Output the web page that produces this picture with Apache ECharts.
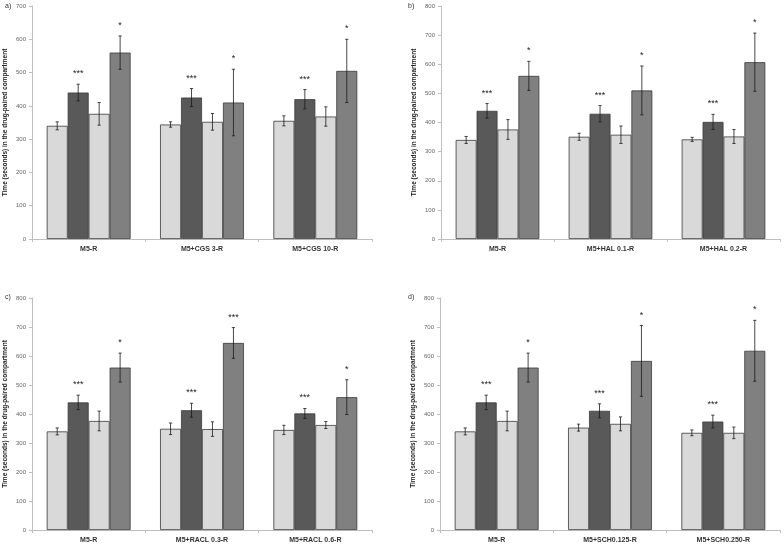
<!DOCTYPE html>
<html>
<head>
<meta charset="utf-8">
<script src="https://cdn.jsdelivr.net/npm/echarts@6/dist/echarts.min.js"></script>
<style>
  html, body { margin: 0; padding: 0; background: #fff; }
  #main { width: 784px; height: 546px; }
</style>
</head>
<body>
<div id="main"></div>
<script>
// categories per panel
var catsA = ['M5-R', 'M5+CGS 3-R', 'M5+CGS 10-R'];
var catsB = ['M5-R', 'M5+HAL 0.1-R', 'M5+HAL 0.2-R'];
var catsC = ['M5-R', 'M5+RACL 0.3-R', 'M5+RACL 0.6-R'];
var catsD = ['M5-R', 'M5+SCH0.125-R', 'M5+SCH0.250-R'];

// means: one row per bar of the group (light, dark, light, medium)
var meanA = [[340, 344, 355], [440, 425, 420], [376, 352, 368], [560, 410, 505]];
var errA  = [[12, 8, 15], [25, 27, 29], [34, 25, 29], [50, 100, 95]];
var meanB = [[340, 351, 342], [440, 430, 402], [376, 358, 352], [560, 510, 607]];
var errB  = [[12, 12, 7], [25, 28, 26], [34, 30, 24], [50, 84, 100]];
var meanC = [[340, 349, 345], [440, 413, 402], [376, 348, 362], [560, 645, 458]];
var errC  = [[12, 20, 16], [25, 24, 17], [34, 25, 12], [50, 53, 60]];
var meanD = [[340, 353, 335], [440, 411, 374], [376, 366, 335], [560, 583, 618]];
var errD  = [[12, 12, 10], [25, 24, 22], [34, 24, 20], [50, 122, 105]];

// significance marks over bar 2 and bar 4 of each group
var starsA = [['***', '*'], ['***', '*'], ['***', '*']];
var starsB = [['***', '*'], ['***', '*'], ['***', '*']];
var starsC = [['***', '*'], ['***', '***'], ['***', '*']];
var starsD = [['***', '*'], ['***', '*'], ['***', '*']];

var yMax = [700, 800, 800, 800];

var barColors = ['#d9d9d9', '#595959', '#d9d9d9', '#808080'];
var catGap = 0.26;
var font = 'Liberation Sans, Arial, sans-serif';

var panels = [
  { cats: catsA, mean: meanA, err: errA, stars: starsA, label: 'a)' },
  { cats: catsB, mean: meanB, err: errB, stars: starsB, label: 'b)' },
  { cats: catsC, mean: meanC, err: errC, stars: starsC, label: 'c)' },
  { cats: catsD, mean: meanD, err: errD, stars: starsD, label: 'd)' }
];

var grids = [
  { left: 32, top: 6, width: 340, height: 233 },
  { left: 441, top: 6, width: 339, height: 233 },
  { left: 32, top: 298, width: 340, height: 232 },
  { left: 440, top: 298, width: 340, height: 232 }
];
var labelPos = [[5, 3], [408, 3], [5, 294], [408, 294]];

var xAxes = [], yAxes = [], series = [], graphics = [];

panels.forEach(function (p, k) {
  xAxes.push({
    type: 'category',
    gridIndex: k,
    data: p.cats,
    axisLine: { lineStyle: { color: '#bfbfbf', width: 1 } },
    axisTick: { show: true, length: 3, lineStyle: { color: '#bfbfbf' } },
    axisLabel: { fontFamily: font, fontSize: 7, fontWeight: 'bold', color: '#333', margin: 7 }
  });
  yAxes.push({
    type: 'value',
    gridIndex: k,
    min: 0,
    max: yMax[k],
    interval: 100,
    name: 'Time (seconds) in the drug-paired compartment',
    nameLocation: 'middle',
    nameGap: 23,
    nameTextStyle: { fontFamily: font, fontSize: 6.5, fontWeight: 'bold', color: '#222' },
    axisLine: { show: true, lineStyle: { color: '#bfbfbf', width: 1 } },
    axisTick: { show: true, length: 3, lineStyle: { color: '#bfbfbf' } },
    axisLabel: { fontFamily: font, fontSize: 6, color: '#666', margin: 6 },
    splitLine: { show: false }
  });

  p.mean.forEach(function (vals, i) {
    series.push({
      type: 'bar',
      xAxisIndex: k,
      yAxisIndex: k,
      data: vals,
      barGap: '0%',
      barCategoryGap: (catGap * 100) + '%',
      itemStyle: { color: barColors[i], borderColor: '#3a3a3a', borderWidth: 0.8 },
      silent: true
    });
  });

  // error bars and significance marks
  var items = [];
  p.mean.forEach(function (vals, i) {
    vals.forEach(function (v, c) {
      var star = '';
      if (i === 1) star = p.stars[c][0];
      if (i === 3) star = p.stars[c][1];
      items.push([c, v, p.err[i][c], i, star]);
    });
  });
  series.push({
    type: 'custom',
    xAxisIndex: k,
    yAxisIndex: k,
    data: items,
    silent: true,
    z: 10,
    renderItem: function (params, api) {
      var c = api.value(0), v = api.value(1), e = api.value(2), i = api.value(3);
      var star = items[params.dataIndex][4];
      var band = api.size([1, 0])[0];
      var bw = band * (1 - catGap) / 4;
      var center = api.coord([c, v]);
      var x = center[0] + (i - 1.5) * bw;
      var yTop = api.coord([c, v + e])[1];
      var yBot = api.coord([c, v - e])[1];
      var cap = 1.6;
      var style = { stroke: '#1a1a1a', lineWidth: 0.8 };
      var children = [
        { type: 'line', shape: { x1: x, y1: yTop, x2: x, y2: yBot }, style: style },
        { type: 'line', shape: { x1: x - cap, y1: yTop, x2: x + cap, y2: yTop }, style: style },
        { type: 'line', shape: { x1: x - cap, y1: yBot, x2: x + cap, y2: yBot }, style: style }
      ];
      if (star) {
        children.push({
          type: 'text',
          style: {
            text: star, x: x, y: yTop - 6,
            align: 'center', verticalAlign: 'bottom',
            fontFamily: font, fontSize: 9, fill: '#222'
          }
        });
      }
      return { type: 'group', children: children };
    }
  });

  graphics.push({
    type: 'text',
    left: labelPos[k][0],
    top: labelPos[k][1],
    style: { text: p.label, fontFamily: font, fontSize: 7, fill: '#333' }
  });
});

var chart = echarts.init(document.getElementById('main'));
chart.setOption({
  animation: false,
  backgroundColor: '#fff',
  grid: grids,
  xAxis: xAxes,
  yAxis: yAxes,
  series: series,
  graphic: graphics
});
</script>
</body>
</html>
